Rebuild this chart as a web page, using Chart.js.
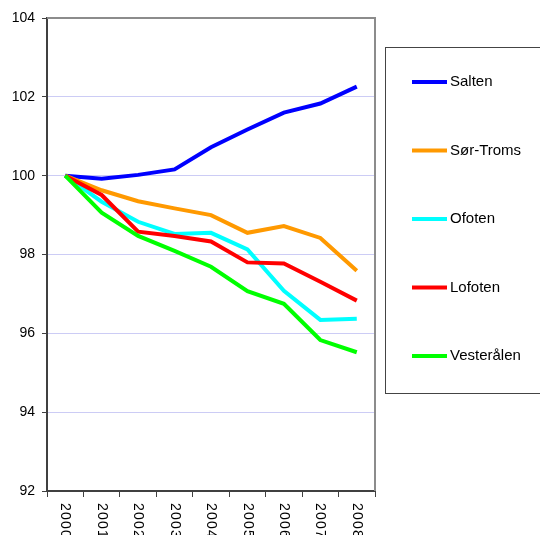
<!DOCTYPE html>
<html lang="no">
<head>
    <meta charset="UTF-8">
    <title>Befolkningsutvikling 2000-2008</title>
    <script src="https://cdn.jsdelivr.net/npm/chart.js"></script>
    <style>
        body {
            margin: 0;
            background-color: #ffffff;
        }
        canvas {
            display: block;
        }
    </style>
</head>
<body>
    <canvas id="lineChart" width="540" height="535"></canvas>

    <script>
        // data (indeks, 2000 = 100)
        const years = ["2000", "2001", "2002", "2003", "2004", "2005", "2006", "2007", "2008"];
        const regions = ["Salten", "Sør-Troms", "Ofoten", "Lofoten", "Vesterålen"];
        const colors = ['#0000ff', '#ff9900', '#00ffff', '#ff0000', '#00ff00'];

        const salten     = [100, 99.92, 100.02, 100.16, 100.72, 101.17, 101.60, 101.83, 102.26];
        const sorTroms   = [100, 99.63, 99.35, 99.17, 99.00, 98.55, 98.72, 98.42, 97.59];
        const ofoten     = [100, 99.34, 98.83, 98.52, 98.55, 98.13, 97.08, 96.34, 96.37];
        const lofoten    = [100, 99.51, 98.58, 98.47, 98.33, 97.80, 97.77, 97.31, 96.83];
        const vesteralen = [100, 99.06, 98.47, 98.09, 97.69, 97.07, 96.75, 95.83, 95.52];
        const series = [salten, sorTroms, ofoten, lofoten, vesteralen];

        const yTicks = [92, 94, 96, 98, 100, 102, 104];

        const datasets = regions.map((name, i) => ({
            label: name,
            data: series[i],
            borderColor: colors[i],
            backgroundColor: colors[i],
            borderWidth: 4,
            pointRadius: 0,
            tension: 0,
            order: regions.length - i   // siste serie øverst
        }));

        // ramme oppe og til høyre
        const frame = {
            id: 'frame',
            beforeDatasetsDraw(chart) {
                const { ctx, chartArea: a } = chart;
                ctx.save();
                ctx.strokeStyle = '#8c8c8c';
                ctx.lineWidth = 2;
                ctx.beginPath();
                ctx.moveTo(a.left, a.top);
                ctx.lineTo(a.right, a.top);
                ctx.lineTo(a.right, a.bottom);
                ctx.stroke();
                ctx.restore();
            }
        };

        // årstall loddrett, lest ovenfra og ned
        const yearLabels = {
            id: 'yearLabels',
            afterDraw(chart) {
                const { ctx } = chart;
                const xs = chart.scales.x;
                ctx.save();
                ctx.fillStyle = '#000';
                ctx.font = '14px "Liberation Sans", Arial, sans-serif';
                ctx.letterSpacing = '1.2px';
                ctx.textAlign = 'left';
                ctx.textBaseline = 'middle';
                years.forEach((y, i) => {
                    ctx.save();
                    ctx.translate(xs.getPixelForTick(i), xs.top + 12);
                    ctx.rotate(Math.PI / 2);
                    ctx.fillText(y, 0, 0);
                    ctx.restore();
                });
                ctx.restore();
            }
        };

        // forklaring i boks til høyre
        const boxLegend = {
            id: 'boxLegend',
            afterDraw(chart) {
                const { ctx } = chart;
                ctx.save();
                ctx.strokeStyle = '#444';
                ctx.lineWidth = 1;
                ctx.strokeRect(385.5, 47.5, 170, 346);
                ctx.font = '15px "Liberation Sans", Arial, sans-serif';
                ctx.textBaseline = 'middle';
                ctx.fillStyle = '#000';
                regions.forEach((name, i) => {
                    const y = 82 + i * 68.5;
                    ctx.strokeStyle = colors[i];
                    ctx.lineWidth = 4;
                    ctx.beginPath();
                    ctx.moveTo(412, y);
                    ctx.lineTo(447, y);
                    ctx.stroke();
                    ctx.fillText(name, 450, y);
                });
                ctx.restore();
            }
        };

        const ctx = document.getElementById('lineChart').getContext('2d');
        new Chart(ctx, {
            type: 'line',
            data: { labels: years, datasets: datasets },
            plugins: [frame, yearLabels, boxLegend],
            options: {
                responsive: false,
                animation: false,
                layout: { padding: { top: 18, right: 165, left: 0, bottom: 0 } },
                plugins: {
                    legend: { display: false },
                    tooltip: { enabled: false }
                },
                scales: {
                    x: {
                        offset: true,
                        grid: {
                            offset: true,
                            drawOnChartArea: false,
                            drawTicks: true,
                            tickLength: 6,
                            color: '#404040'
                        },
                        border: { color: '#404040', width: 2 },
                        ticks: { display: false, autoSkip: false },
                        afterFit(scale) { scale.height = 44; }
                    },
                    y: {
                        min: 92,
                        max: 104,
                        afterBuildTicks(scale) {
                            scale.ticks = yTicks.map(v => ({ value: v }));
                        },
                        grid: {
                            color: '#ccccf5',
                            lineWidth: 1,
                            tickLength: 5,
                            tickColor: '#404040'
                        },
                        border: { color: '#404040', width: 2 },
                        ticks: {
                            color: '#000',
                            padding: 7,
                            font: { family: '"Liberation Sans", Arial, sans-serif', size: 14 }
                        },
                        afterFit(scale) { scale.width = 47; }
                    }
                }
            }
        });
    </script>
</body>
</html>
